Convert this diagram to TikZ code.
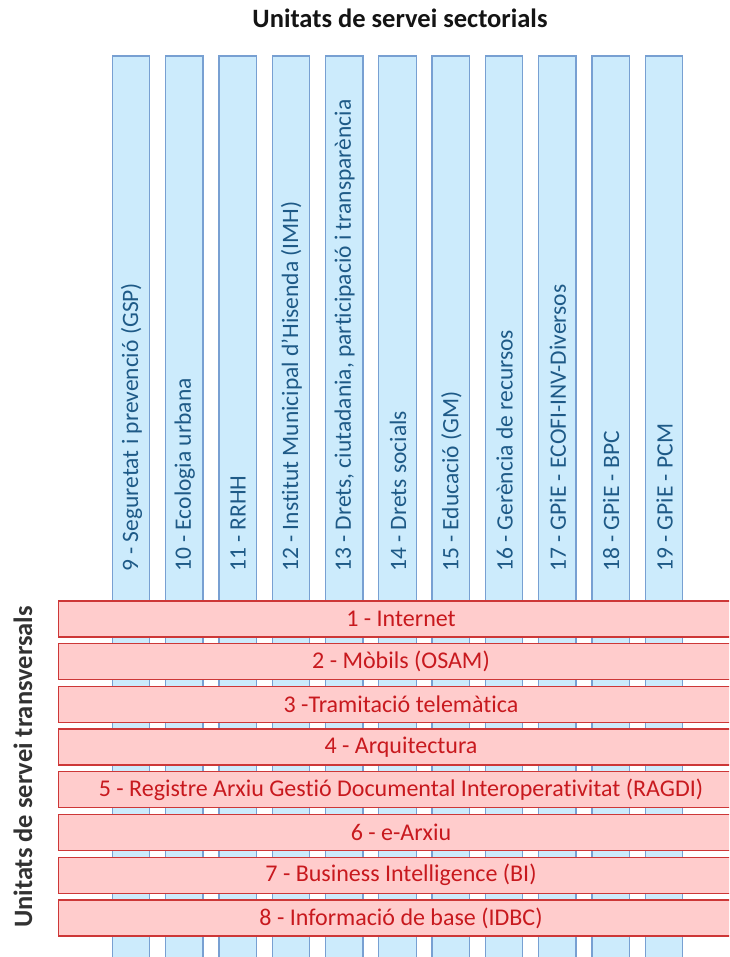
\documentclass[tikz,border=0pt]{standalone}
\usepackage{fontspec}
\setmainfont{Carlito}[Ligatures={NoCommon}]
\definecolor{colfill}{RGB}{204,235,252}
\definecolor{coldraw}{RGB}{120,160,210}
\definecolor{coltext}{RGB}{30,90,135}
\definecolor{barfill}{RGB}{255,204,204}
\definecolor{bardraw}{RGB}{205,55,55}
\definecolor{bartext}{RGB}{200,25,30}
\definecolor{titletext}{RGB}{20,20,20}
\definecolor{lefttext}{RGB}{50,50,50}
\tikzset{
  colbox/.style={draw=coldraw, fill=colfill, line width=1.3pt},
  collabel/.style={rotate=90, anchor=west, inner sep=0pt, text=coltext, font=\fontsize{23.5}{26}\selectfont},
  barbox/.style={draw=bardraw, fill=barfill, line width=1.3pt},
  barlabel/.style={anchor=center, inner sep=0pt, text=bartext, font=\fontsize{24}{27}\selectfont},
  titlelabel/.style={inner sep=0pt, text=titletext, font=\bfseries\fontsize{26.5}{30}\selectfont}
}
\begin{document}
\begin{tikzpicture}[x=1pt,y=-1pt]
\useasboundingbox (0,0) rectangle (729,957);
\clip (0,0) rectangle (729,957);
\node[titlelabel] (ttop) at (400,18) {Unitats de servei sectorials};
\node[titlelabel, rotate=90, text=lefttext] (tleft) at (23,767) {Unitats de servei transversals};
\foreach \i/\t in {0/{9 - Seguretat i prevenció (GSP)},
                   1/{10 - Ecologia urbana},
                   2/{11 - RRHH},
                   3/{12 - Institut Municipal d’Hisenda (IMH)},
                   4/{13 - Drets, ciutadania, participació i transparència},
                   5/{14 - Drets socials},
                   6/{15 - Educació (GM)},
                   7/{16 - Gerència de recursos},
                   8/{17 - GPiE - ECOFI-INV-Diversos},
                   9/{18 - GPiE - BPC},
                   10/{19 - GPiE - PCM}} {
  \pgfmathsetmacro{\xl}{112.3+53.3*\i}
  \pgfmathsetmacro{\xc}{\xl+19.2}
  \draw[colbox] (\xl,56) rectangle ++(37.4,920);
  \node[collabel] (c\i) at (\xc,572) {\t};
}
\foreach \j/\t in {0/{1 - Internet},
                   1/{2 - Mòbils (OSAM)},
                   2/{3 -Tramitació telemàtica},
                   3/{4 - Arquitectura},
                   4/{5 - Registre Arxiu Gestió Documental Interoperativitat (RAGDI)},
                   5/{6 - e-Arxiu},
                   6/{7 - Business Intelligence (BI)},
                   7/{8 - Informació de base (IDBC)}} {
  \pgfmathsetmacro{\yt}{601+42.7*\j}
  \pgfmathsetmacro{\yc}{\yt+18}
  \draw[barbox] (58.7,\yt) rectangle ++(686,36);
  \node[barlabel] (b\j) at (401,\yc) {\t};
}
\end{tikzpicture}
\end{document}
